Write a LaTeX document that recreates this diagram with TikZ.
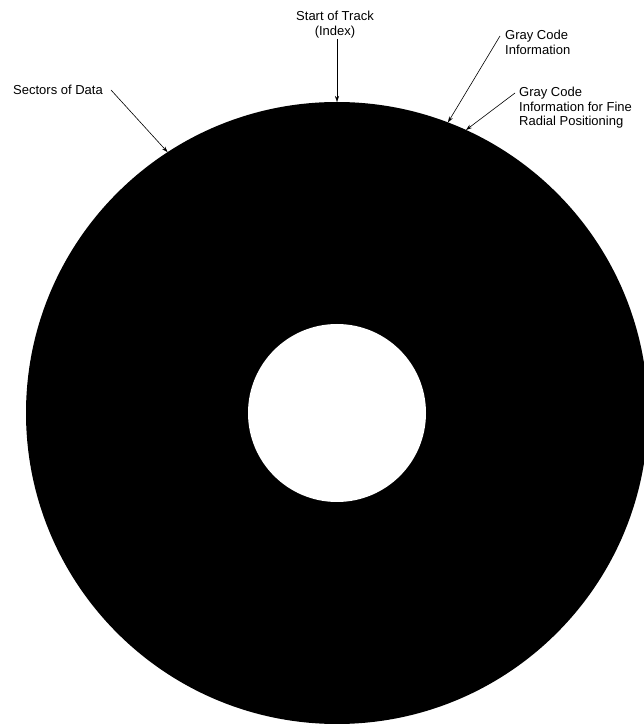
\documentclass[tikz,border=0pt]{standalone}
\usepackage{fontspec}
\setmainfont{Liberation Sans}
\usetikzlibrary{positioning, arrows.meta}

\begin{document}
\begin{tikzpicture}[
    x=1pt, y=1pt,
    >={Stealth[length=6pt, width=4pt]},
    note/.style={inner sep=1pt, align=left, font=\fontsize{13}{14.5}\selectfont},
    line/.style={->, semithick}
  ]
  \useasboundingbox (0,0) rectangle (644,726);

  % Disk with spindle hole
  \coordinate (c) at (337,313);
  \fill[black] (c) circle (311);
  \fill[white] (c) circle (89);

  % Points on the rim
  \coordinate (rimsec)  at ([shift={(123:311)}]c);
  \coordinate (rimtop)  at ([shift={(90:311)}]c);
  \coordinate (rimgray) at ([shift={(69.1:311)}]c);
  \coordinate (rimfine) at ([shift={(65.5:311)}]c);

  % Labels
  \node[note, anchor=west] (sectors) at (12,636) {Sectors of Data};
  \node[note, align=center, anchor=south] (index) at (335,687) {Start of Track\\(Index)};
  \node[note, anchor=north west] (gray) at (504,697) {Gray Code\\Information};
  \node[note, anchor=north west] (grayfine) at (518,640) {Gray Code\\Information for Fine\\Radial Positioning};

  % Pointers
  \draw[line] ([xshift=7pt]sectors.east) -- (rimsec);
  \draw[line] (index.south -| rimtop) -- (rimtop);
  \draw[line] ([xshift=-4pt, yshift=-7pt]gray.north west) -- (rimgray);
  \draw[line] ([xshift=-3pt, yshift=-7pt]grayfine.north west) -- (rimfine);
\end{tikzpicture}
\end{document}
